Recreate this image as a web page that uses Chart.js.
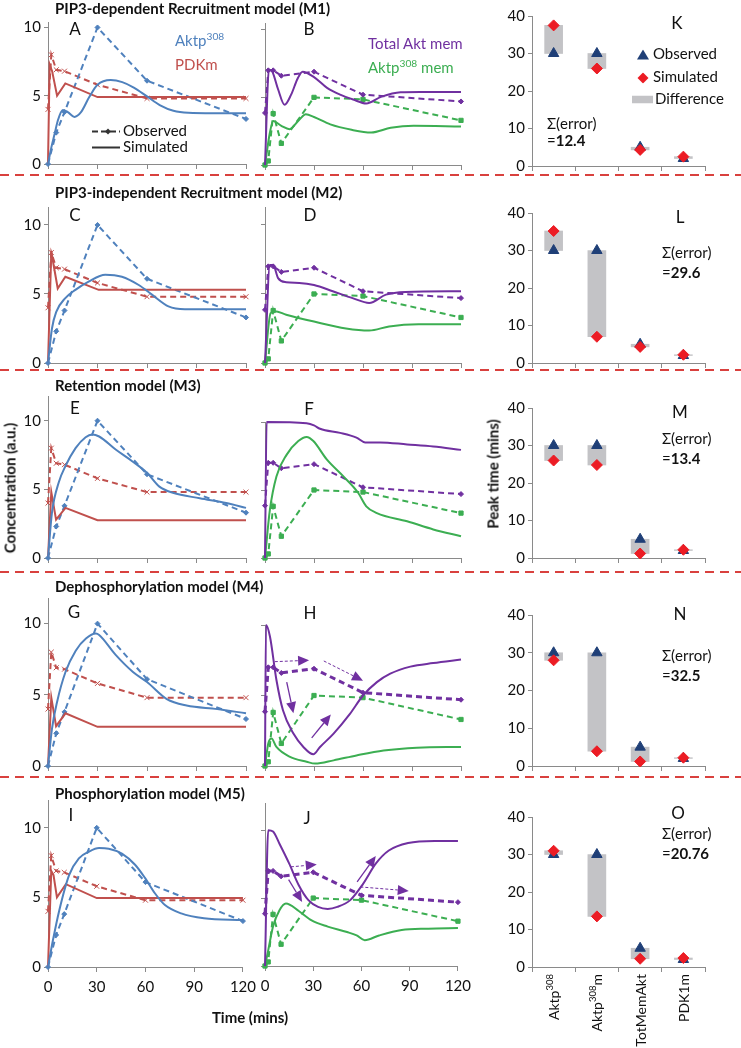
<!DOCTYPE html>
<html>
<head>
<meta charset="utf-8">
<title>Akt recruitment models</title>
<script src="https://cdn.jsdelivr.net/npm/chart.js@4.4.1/dist/chart.umd.min.js"></script>
<style>
  body { margin: 0; background: #fff; }
  #fig { position: relative; width: 741px; height: 1048px; overflow: hidden; font-family: Lato, "Open Sans", sans-serif; color: #111; }
  #fig canvas { position: absolute; }
  .t { position: absolute; white-space: nowrap; line-height: 1; }
  .t sup { font-size: 68%; vertical-align: 0; position: relative; top: -0.55em; }
</style>
</head>
<body>
<div id="fig"></div>
<script>
var FONT = 'Lato, "Open Sans", sans-serif';
Chart.defaults.font.family = FONT;
Chart.defaults.color = '#111';
Chart.defaults.animation = false;

var BLUE = '#4f81bd', RED = '#c0504d', PURPLE = '#7030a0', GREEN = '#3cae52';
var NAVY = '#1f3f77', DIAMOND = '#ec1c24', GRAY = '#c3c3c6', AXIS = '#8a8a8a', SEP = '#d9413e';

// observed time courses (same in every row)
var obsAktT = [0, 5, 10, 30, 60, 120];
var obsAkt = [0, 2.3, 3.8, 10, 6.1, 3.3];
var obsT = [0, 2, 5, 10, 30, 60, 120];
var obsPdk = [4.0, 8.0, 6.9, 6.8, 5.8, 4.8, 4.8];
var obsTot = [3.85, 7.0, 7.0, 6.6, 6.9, 5.2, 4.7];
var obsMem = [0, 0.3, 3.8, 1.6, 5.0, 4.85, 3.3];

// simulated, M1
var m1AktT = [0, 2, 4, 6, 9, 12, 16, 20, 25, 30, 38, 45, 52, 60, 68, 76, 85, 100, 120];
var m1Akt = [0, 1.2, 2.2, 3.2, 3.95, 3.8, 3.45, 3.8, 4.9, 5.8, 6.15, 6.0, 5.6, 4.95, 4.3, 3.9, 3.75, 3.72, 3.72];
var m1PdkT = [0, 1, 2.5, 5.5, 10.5, 30, 120];
var m1Pdk = [0, 7.3, 6.8, 5.0, 5.9, 4.9, 4.9];
var m1TotT = [0, 2.4, 4.5, 8, 12, 16, 20, 23, 30, 38, 46, 54, 62, 71, 83, 95, 120];
var m1Tot = [0, 7.05, 6.9, 5.6, 4.45, 5.2, 6.4, 6.9, 6.5, 5.7, 5.2, 4.84, 4.55, 5.04, 5.38, 5.4, 5.4];
var m1MemT = [0, 3, 5, 10, 15, 21, 25, 30, 40, 53, 65, 77, 91, 120];
var m1Mem = [0, 2.4, 3.25, 2.9, 2.65, 3.35, 3.75, 3.55, 3.0, 2.6, 2.4, 2.75, 2.9, 2.85];

// simulated, M2
var m2AktT = [0, 2.4, 5, 10.5, 16.6, 24.6, 34.7, 44.8, 55, 63, 73, 83, 120];
var m2Akt = [0, 2.5, 3.7, 4.7, 5.3, 5.9, 6.4, 6.25, 5.65, 4.95, 4.1, 3.9, 3.9];
var m2PdkT = [0, 2, 3.4, 5.9, 10.5, 30.7, 120];
var m2Pdk = [0, 8.1, 7.1, 5.4, 6.25, 5.3, 5.3];
var m2TotT = [0, 3, 5, 8, 13, 21, 30, 41.5, 53.6, 63.8, 74, 86, 120];
var m2Tot = [0, 7.1, 7.1, 6.15, 5.85, 5.8, 5.65, 5.2, 4.7, 4.35, 4.95, 5.15, 5.2];
var m2MemT = [0, 3.4, 6, 13, 30, 49.6, 63.8, 76, 94, 120];
var m2Mem = [0, 3.6, 3.75, 3.5, 3.0, 2.5, 2.35, 2.65, 2.8, 2.8];

// simulated, M3
var m3AktT = [0, 2.4, 6.5, 10.6, 16.7, 22.8, 26.8, 31, 41, 51, 60, 67.5, 75.7, 92, 108, 120];
var m3Akt = [0, 3.3, 5.5, 6.7, 8.0, 8.8, 9.0, 8.85, 7.9, 7.05, 6.2, 5.2, 4.75, 4.35, 4.0, 3.65];
var m3PdkT = [0, 2, 4.9, 10.6, 30, 120];
var m3Pdk = [0, 4.8, 2.8, 3.65, 2.75, 2.75];
var m3TotT = [0, 1, 25.5, 30, 33.7, 46, 56, 61.3, 70.5, 87, 103, 120];
var m3Tot = [0, 10, 9.9, 9.75, 9.5, 9.2, 8.85, 8.5, 8.5, 8.35, 8.2, 7.95];
var m3MemT = [0, 3, 7, 13.3, 20.4, 25.5, 29.6, 37.8, 48, 57, 62, 68.5, 87, 103, 120];
var m3Mem = [0, 3.55, 6.0, 7.6, 8.6, 8.9, 8.6, 7.25, 6.0, 4.8, 3.8, 3.3, 2.7, 2.1, 1.6];

// simulated, M4
var m4AktT = [0, 2.4, 5.5, 10.6, 16.8, 23, 29, 31, 41, 51.5, 60, 72, 84, 102.6, 120];
var m4Akt = [0, 2.6, 4.5, 6.6, 8.1, 8.95, 9.3, 9.2, 7.8, 6.6, 5.9, 4.7, 4.25, 4.0, 3.7];
var m4PdkT = [0, 2, 4.9, 10.6, 30, 120];
var m4Pdk = [0, 4.8, 2.8, 3.7, 2.75, 2.75];
var m4TotT = [0, 0.6, 3, 7, 11, 17.4, 23.5, 29.6, 33.7, 42, 52, 60, 68.5, 76.7, 89, 103, 120];
var m4Tot = [0, 10, 9.2, 6.1, 3.95, 2.3, 1.35, 0.83, 1.35, 2.3, 3.7, 5.0, 5.95, 6.55, 7.05, 7.3, 7.55];
var m4MemT = [0, 2, 4, 7, 15.3, 25.5, 30.7, 42, 56, 72.6, 93, 120];
var m4Mem = [0, 1.6, 1.95, 1.35, 0.65, 0.3, 0.17, 0.4, 0.75, 1.1, 1.3, 1.35];

// simulated, M5
var m5AktT = [0, 3, 7, 13, 19, 25.3, 31.4, 37.4, 45.5, 53.6, 59.7, 65.8, 72, 82, 96, 120];
var m5Akt = [0, 1.9, 4.1, 6.6, 7.8, 8.3, 8.55, 8.5, 8.15, 7.35, 6.4, 5.3, 4.45, 3.85, 3.5, 3.37];
var m5PdkT = [0, 2, 3.4, 5.5, 11, 30, 120];
var m5Pdk = [0, 6.9, 6.6, 5.0, 5.95, 4.95, 4.95];
var m5TotT = [0, 2, 5, 9, 15, 21, 27, 33, 39, 45, 53, 61, 69, 77, 89, 105.5, 120];
var m5Tot = [0, 10, 9.9, 9.0, 7.55, 5.95, 4.85, 4.35, 4.2, 4.35, 4.85, 6.05, 7.55, 8.5, 9.05, 9.2, 9.2];
var m5MemT = [0, 2, 5, 9, 13, 21, 29, 39, 51, 57, 62, 71, 85, 101.5, 120];
var m5Mem = [0, 1.15, 2.9, 4.1, 4.6, 4.05, 3.35, 2.9, 2.5, 2.25, 1.9, 2.25, 2.65, 2.75, 2.8];

// arrows drawn on H and J (x1, y1, x2, y2, dashed)
var m4Arrows = [[6, 7.4, 27, 7.5, 1], [36, 7.45, 60, 6.05, 1], [13.3, 5.95, 17.4, 3.75, 0], [28.6, 2.0, 40.3, 3.65, 0]];
var m5Arrows = [[16.1, 7.3, 32.2, 7.47, 1], [59.3, 5.82, 89.4, 5.53, 1], [14.7, 6.36, 23.1, 4.72, 0], [57.3, 6.19, 68.9, 8.1, 0]];

// peak times
var peakCats = ['Aktp^308', 'Aktp^308m', 'TotMemAkt', 'PDK1m'];
var peakObs = [30, 30, 5, 2];
var m1Peak = [37.5, 26, 4.3, 2.5];
var m2Peak = [35.2, 7, 4.3, 2.2];
var m3Peak = [26, 24.8, 1.2, 2.2];
var m4Peak = [28, 3.9, 1.2, 2.2];
var m5Peak = [31, 13.5, 2.2, 2.4];
var errSums = ['12.4', '29.6', '13.4', '32.5', '20.76'];

var timeTicks = [0, 30, 60, 90, 120];
var concTicks = [0, 5, 10];
var peakTicks = [0, 10, 20, 30, 40];

var models = [
  { name: 'PIP3-dependent Recruitment model (M1)', akt: [m1AktT, m1Akt], pdk: [m1PdkT, m1Pdk], tot: [m1TotT, m1Tot], mem: [m1MemT, m1Mem], peak: m1Peak, arrows: null },
  { name: 'PIP3-independent Recruitment model (M2)', akt: [m2AktT, m2Akt], pdk: [m2PdkT, m2Pdk], tot: [m2TotT, m2Tot], mem: [m2MemT, m2Mem], peak: m2Peak, arrows: null },
  { name: 'Retention model (M3)', akt: [m3AktT, m3Akt], pdk: [m3PdkT, m3Pdk], tot: [m3TotT, m3Tot], mem: [m3MemT, m3Mem], peak: m3Peak, arrows: null },
  { name: 'Dephosphorylation model (M4)', akt: [m4AktT, m4Akt], pdk: [m4PdkT, m4Pdk], tot: [m4TotT, m4Tot], mem: [m4MemT, m4Mem], peak: m4Peak, arrows: m4Arrows },
  { name: 'Phosphorylation model (M5)', akt: [m5AktT, m5Akt], pdk: [m5PdkT, m5Pdk], tot: [m5TotT, m5Tot], mem: [m5MemT, m5Mem], peak: m5Peak, arrows: m5Arrows }
];

// page layout: plot areas in px  [top, bottom, ymax]
var leftX = [48, 246], midX = [265, 461], rightX = [532, 705];
var rowGeo = [
  { titleY: 8,   left: [22, 164, 10.4],  mid: [23, 165, 10.5],  right: [16, 166],  sep: 175 },
  { titleY: 192, left: [207, 363, 11.3], mid: [207, 363, 11.3], right: [213, 363], sep: 370 },
  { titleY: 385, left: [396, 558, 11.8], mid: [422, 558, 10],   right: [408, 558], sep: 572 },
  { titleY: 586, left: [598, 766, 11.8], mid: [625, 766, 10],   right: [615, 766], sep: 777 },
  { titleY: 793, left: [800, 967, 12],   mid: [803, 966, 12],   right: [817, 967], sep: null }
];
var letters = [
  [['A', 75, 28], ['B', 309, 28], ['K', 677, 22]],
  [['C', 75, 214], ['D', 310, 214], ['L', 680, 216]],
  [['E', 75, 407], ['F', 309, 408], ['M', 680, 411]],
  [['G', 74, 611], ['H', 310, 612], ['N', 680, 613]],
  [['I', 71, 814], ['J', 307, 817], ['O', 678, 812]]
];
var errPos = [[547, 123, 140], [662, 252, 272], [662, 438, 458], [662, 655, 675], [662, 833, 853]];

var fig = document.getElementById('fig');

function pts(t, v) {
  return t.map(function (x, i) { return { x: x, y: v[i] }; });
}

function txt(html, x, y, css) {
  var d = document.createElement('div');
  d.className = 't';
  d.innerHTML = html;
  d.style.left = x + 'px';
  d.style.top = y + 'px';
  d.style.transform = 'translateY(-50%)';
  if (css) d.style.cssText += css;
  fig.appendChild(d);
  return d;
}

function fixedTicks(list) {
  return function (s) { s.ticks = list.map(function (v) { return { value: v }; }); };
}

var arrowPlugin = {
  id: 'arrows',
  afterDatasetsDraw: function (chart, args, opts) {
    if (!opts.list) return;
    var xs = chart.scales.x, ys = chart.scales.y, ctx = chart.ctx;
    opts.list.forEach(function (a) {
      var x1 = xs.getPixelForValue(a[0]), y1 = ys.getPixelForValue(a[1]);
      var x2 = xs.getPixelForValue(a[2]), y2 = ys.getPixelForValue(a[3]);
      var ang = Math.atan2(y2 - y1, x2 - x1), hl = 11, hw = 5;
      var c = Math.cos(ang), s = Math.sin(ang);
      ctx.save();
      ctx.strokeStyle = PURPLE;
      ctx.fillStyle = PURPLE;
      ctx.lineWidth = a[4] ? 1 : 1.3;
      ctx.setLineDash(a[4] ? [3, 2] : []);
      ctx.beginPath();
      ctx.moveTo(x1, y1);
      ctx.lineTo(x2 - hl * c, y2 - hl * s);
      ctx.stroke();
      ctx.setLineDash([]);
      ctx.beginPath();
      ctx.moveTo(x2, y2);
      ctx.lineTo(x2 - hl * c - hw * s, y2 - hl * s + hw * c);
      ctx.lineTo(x2 - hl * c + hw * s, y2 - hl * s - hw * c);
      ctx.closePath();
      ctx.fill();
      ctx.restore();
    });
  }
};

// rotated category labels with superscripts
var catLabelPlugin = {
  id: 'catLabels',
  afterDraw: function (chart, args, opts) {
    if (!opts.show) return;
    var xs = chart.scales.x, ctx = chart.ctx;
    var y0 = chart.chartArea.bottom + 7;
    chart.data.labels.forEach(function (lab, i) {
      var m = /^([^^]*)\^(\d+)(.*)$/.exec(lab);
      var parts = m ? [[m[1], 0], [m[2], 1], [m[3], 0]] : [[lab, 0]];
      ctx.save();
      ctx.translate(xs.getPixelForTick(i) + 1, y0);
      ctx.rotate(-Math.PI / 2);
      ctx.fillStyle = '#111';
      ctx.textBaseline = 'middle';
      ctx.textAlign = 'left';
      var widths = parts.map(function (p) {
        ctx.font = (p[1] ? '9.5px ' : '14px ') + FONT;
        return ctx.measureText(p[0]).width;
      });
      var total = widths.reduce(function (a, b) { return a + b; }, 0);
      var x = -total;
      parts.forEach(function (p, k) {
        ctx.font = (p[1] ? '9.5px ' : '14px ') + FONT;
        ctx.fillText(p[0], x, p[1] ? -5 : 0);
        x += widths[k];
      });
      ctx.restore();
    });
  }
};

function addCanvas(x0, x1, top, bottom, YW, PT, PR, XH) {
  var c = document.createElement('canvas');
  c.width = x1 - x0 + YW + PR;
  c.height = bottom - top + PT + XH;
  c.style.left = (x0 - YW) + 'px';
  c.style.top = (top - PT) + 'px';
  fig.appendChild(c);
  return c;
}

function simSet(tv, color, smooth) {
  return {
    data: pts(tv[0], tv[1]), borderColor: color, borderWidth: 2, pointRadius: 0, fill: false,
    tension: 0, cubicInterpolationMode: smooth ? 'monotone' : 'default', clip: false
  };
}

function obsSet(t, v, color, style, r, lw) {
  return {
    data: pts(t, v), borderColor: color, backgroundColor: color, borderWidth: lw || 2, borderDash: [6, 4],
    pointStyle: style, pointRadius: r, pointBorderWidth: 1, pointBorderColor: color,
    pointBackgroundColor: color, clip: false
  };
}

function makeLine(xr, geo, datasets, showY, showX, arrows) {
  var YW = 40, PT = 12, PR = 16, XH = showX ? 34 : 14;
  var c = addCanvas(xr[0], xr[1], geo[0], geo[1], YW, PT, PR, XH);
  new Chart(c, {
    type: 'line',
    data: { datasets: datasets },
    options: {
      responsive: false,
      animation: false,
      layout: { padding: { top: PT, right: PR, left: 0, bottom: 0 } },
      plugins: { legend: { display: false }, tooltip: { enabled: false }, arrows: { list: arrows } },
      scales: {
        x: {
          type: 'linear', min: 0, max: 120,
          afterBuildTicks: fixedTicks(timeTicks),
          afterFit: function (s) { s.height = XH; },
          grid: { drawOnChartArea: false, tickLength: 5, color: AXIS },
          border: { color: AXIS },
          ticks: { display: showX, font: { size: 15 }, padding: 6, maxRotation: 0 }
        },
        y: {
          min: 0, max: geo[2],
          afterBuildTicks: fixedTicks(concTicks),
          afterFit: function (s) { s.width = YW; },
          grid: { drawOnChartArea: false, tickLength: 4, color: AXIS },
          border: { color: AXIS },
          ticks: { display: showY, font: { size: 15 }, padding: 3 }
        }
      }
    },
    plugins: [arrowPlugin]
  });
}

function makePeak(geo, sim, showX) {
  var YW = 40, PT = 12, PR = 16, XH = showX ? 80 : 14;
  var c = addCanvas(rightX[0], rightX[1], geo[0], geo[1], YW, PT, PR, XH);
  var diff = peakObs.map(function (o, i) { return [Math.min(o, sim[i]), Math.max(o, sim[i])]; });
  new Chart(c, {
    type: 'bar',
    data: {
      labels: peakCats,
      datasets: [
        { type: 'line', data: sim, showLine: false, pointStyle: 'rectRot', pointRadius: 5.5,
          pointBackgroundColor: DIAMOND, pointBorderColor: DIAMOND, clip: false },
        { type: 'line', data: peakObs, showLine: false, pointStyle: 'triangle', pointRadius: 6,
          pointBackgroundColor: NAVY, pointBorderColor: NAVY, clip: false },
        { data: diff, backgroundColor: GRAY, barThickness: 18 }
      ]
    },
    options: {
      responsive: false,
      animation: false,
      layout: { padding: { top: PT, right: PR, left: 0, bottom: 0 } },
      plugins: { legend: { display: false }, tooltip: { enabled: false }, catLabels: { show: showX } },
      scales: {
        x: {
          afterFit: function (s) { s.height = XH; },
          grid: { drawOnChartArea: false, tickLength: 5, color: AXIS, offset: true },
          border: { color: AXIS },
          ticks: { display: false }
        },
        y: {
          min: 0, max: 40,
          afterBuildTicks: fixedTicks(peakTicks),
          afterFit: function (s) { s.width = YW; },
          grid: { drawOnChartArea: false, tickLength: 4, color: AXIS },
          border: { color: AXIS },
          ticks: { font: { size: 15 }, padding: 3 }
        }
      }
    },
    plugins: [catLabelPlugin]
  });
}

// separators
var svgNS = 'http://www.w3.org/2000/svg';
var sepSvg = document.createElementNS(svgNS, 'svg');
sepSvg.setAttribute('width', 741);
sepSvg.setAttribute('height', 1048);
sepSvg.style.position = 'absolute';
sepSvg.style.left = '0';
sepSvg.style.top = '0';
rowGeo.forEach(function (g) {
  if (g.sep === null) return;
  var l = document.createElementNS(svgNS, 'line');
  l.setAttribute('x1', 0); l.setAttribute('x2', 741);
  l.setAttribute('y1', g.sep); l.setAttribute('y2', g.sep);
  l.setAttribute('stroke', SEP); l.setAttribute('stroke-width', 2);
  l.setAttribute('stroke-dasharray', '9,6');
  sepSvg.appendChild(l);
});
fig.appendChild(sepSvg);

models.forEach(function (m, r) {
  var g = rowGeo[r], last = r === models.length - 1;
  var heavy = r >= 3 ? 3 : 2;
  makeLine(leftX, g.left, [
    simSet(m.akt, BLUE, true),
    simSet(m.pdk, RED, false),
    obsSet(obsAktT, obsAkt, BLUE, 'rectRot', 2.5),
    obsSet(obsT, obsPdk, RED, 'crossRot', 3.5)
  ], true, last, null);
  makeLine(midX, g.mid, [
    simSet(m.tot, PURPLE, true),
    simSet(m.mem, GREEN, true),
    obsSet(obsT, obsTot, PURPLE, 'rectRot', 2.5, heavy),
    obsSet(obsT, obsMem, GREEN, 'rect', 3)
  ], false, last, m.arrows);
  makePeak(g.right, m.peak, last);

  txt(m.name, 55, g.titleY, 'font-weight:bold;font-size:15px;');
  letters[r].forEach(function (L) {
    txt(L[0], L[1], L[2], 'font-size:17px;transform:translate(-50%,-50%);');
  });
  var e = errPos[r];
  txt('&Sigma;(error)', e[0], e[1], 'font-size:15px;');
  txt('=<b>' + errSums[r] + '</b>', e[0], e[2], 'font-size:15px;');
});

// in-panel annotations
txt('Aktp<sup>308</sup>', 175, 40, 'font-size:15px;color:' + BLUE + ';');
txt('PDKm', 175, 64, 'font-size:15px;color:' + RED + ';');
txt('Total Akt mem', 368, 43, 'font-size:15px;color:' + PURPLE + ';');
txt('Aktp<sup>308</sup> mem', 368, 67, 'font-size:15px;color:' + GREEN + ';');

txt('<svg width="28" height="10" style="vertical-align:middle;margin-right:3px"><line x1="0" y1="5" x2="28" y2="5" stroke="#333" stroke-width="2" stroke-dasharray="6,3"/><polygon points="16,2 19,5 16,8 13,5" fill="#333"/></svg>Observed', 92, 130, 'font-size:15px;');
txt('<svg width="28" height="10" style="vertical-align:middle;margin-right:3px"><line x1="0" y1="5" x2="28" y2="5" stroke="#333" stroke-width="2"/></svg>Simulated', 92, 146, 'font-size:15px;');

txt('<svg width="12" height="11" style="vertical-align:middle;margin-right:4px"><polygon points="6,0 12,10 0,10" fill="' + NAVY + '"/></svg>Observed', 637, 53, 'font-size:15px;');
txt('<svg width="12" height="11" style="vertical-align:middle;margin-right:4px"><polygon points="6,0 11.5,5.5 6,11 0.5,5.5" fill="' + DIAMOND + '"/></svg>Simulated', 637, 76, 'font-size:15px;');
txt('<svg width="21" height="8" style="vertical-align:middle;margin-right:2px"><rect x="0" y="0" width="21" height="8" fill="' + GRAY + '"/></svg>Difference', 632, 98, 'font-size:15px;');

// axis titles
txt('Concentration (a.u.)', 10, 488, 'font-weight:bold;font-size:15px;transform:translate(-50%,-50%) rotate(-90deg);');
txt('Peak time (mins)', 493, 474, 'font-weight:bold;font-size:15px;transform:translate(-50%,-50%) rotate(-90deg);');
txt('Time (mins)', 250, 1017, 'font-weight:bold;font-size:15px;transform:translate(-50%,-50%);');
</script>
</body>
</html>
